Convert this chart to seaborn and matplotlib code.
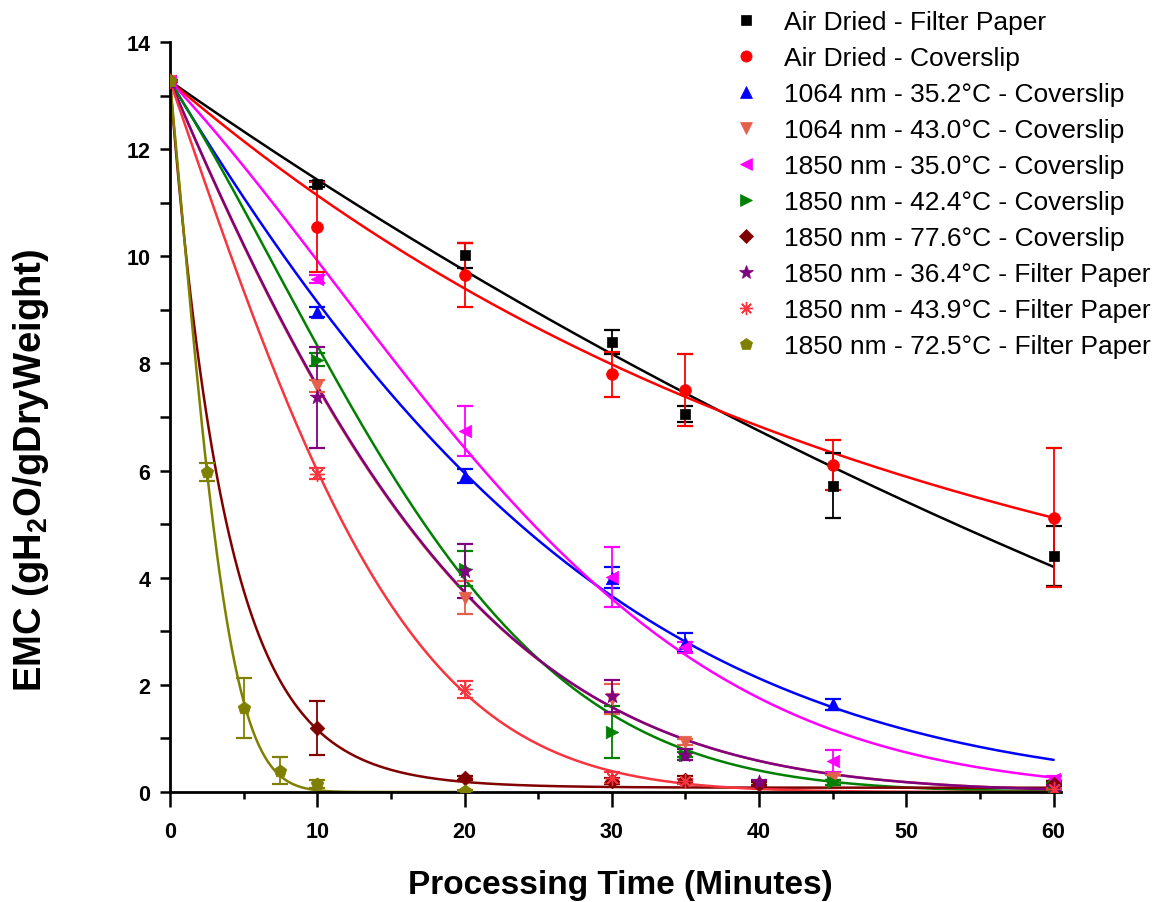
import numpy as np
import pandas as pd
import matplotlib
matplotlib.use("Agg")
import matplotlib.pyplot as plt
import seaborn as sns
from matplotlib.lines import Line2D
from matplotlib.ticker import MultipleLocator

# ---------------- data ----------------
labels = [
    "Air Dried - Filter Paper",
    "Air Dried - Coverslip",
    "1064 nm - 35.2°C - Coverslip",
    "1064 nm - 43.0°C - Coverslip",
    "1850 nm - 35.0°C - Coverslip",
    "1850 nm - 42.4°C - Coverslip",
    "1850 nm - 77.6°C - Coverslip",
    "1850 nm - 36.4°C - Filter Paper",
    "1850 nm - 43.9°C - Filter Paper",
    "1850 nm - 72.5°C - Filter Paper",
]

t_air_fp = [0, 10, 20, 30, 35, 45, 60]
y_air_fp = [13.27, 11.35, 10.02, 8.40, 7.05, 5.72, 4.41]
e_air_fp = [0, 0.05, 0.23, 0.22, 0.15, 0.60, 0.56]

t_air_cs = [0, 10, 20, 30, 35, 45, 60]
y_air_cs = [13.27, 10.55, 9.65, 7.80, 7.50, 6.10, 5.12]
e_air_cs = [0, 0.84, 0.60, 0.42, 0.67, 0.47, 1.30]

t_1064_352 = [0, 10, 20, 30, 35, 45, 60]
y_1064_352 = [13.27, 8.96, 5.90, 4.00, 2.79, 1.64, 0.15]
e_1064_352 = [0, 0.10, 0.13, 0.20, 0.17, 0.10, 0.05]

t_1064_430 = [0, 10, 20, 30, 35, 45, 60]
y_1064_430 = [13.27, 7.58, 3.63, 1.74, 0.93, 0.27, 0.10]
e_1064_430 = [0, 0.12, 0.31, 0.28, 0.06, 0.05, 0.03]

t_1850_350 = [0, 10, 20, 30, 35, 45, 60]
y_1850_350 = [13.27, 9.58, 6.74, 4.02, 2.70, 0.58, 0.25]
e_1850_350 = [0, 0.08, 0.46, 0.56, 0.10, 0.20, 0.05]

t_1850_424 = [0, 10, 20, 30, 35, 45, 60]
y_1850_424 = [13.27, 8.07, 4.17, 1.12, 0.70, 0.18, 0.12]
e_1850_424 = [0, 0.12, 0.33, 0.48, 0.05, 0.05, 0.05]

t_1850_776 = [0, 10, 20, 30, 35, 40, 60]
y_1850_776 = [13.27, 1.19, 0.26, 0.21, 0.23, 0.15, 0.15]
e_1850_776 = [0, 0.50, 0.04, 0.06, 0.06, 0.03, 0.05]

t_1850_364 = [0, 10, 20, 30, 35, 40, 60]
y_1850_364 = [13.27, 7.37, 4.13, 1.80, 0.70, 0.18, 0.10]
e_1850_364 = [0, 0.94, 0.50, 0.30, 0.10, 0.05, 0.03]

t_1850_439 = [0, 10, 20, 30, 35, 60]
y_1850_439 = [13.27, 5.94, 1.92, 0.27, 0.20, 0.05]
e_1850_439 = [0, 0.10, 0.16, 0.10, 0.05, 0.02]

t_1850_725 = [0, 2.5, 5, 7.5, 10, 20]
y_1850_725 = [13.27, 5.97, 1.56, 0.40, 0.15, 0.02]
e_1850_725 = [0, 0.17, 0.56, 0.25, 0.08, 0.01]

times = [t_air_fp, t_air_cs, t_1064_352, t_1064_430, t_1850_350,
         t_1850_424, t_1850_776, t_1850_364, t_1850_439, t_1850_725]
values = [y_air_fp, y_air_cs, y_1064_352, y_1064_430, y_1850_350,
          y_1850_424, y_1850_776, y_1850_364, y_1850_439, y_1850_725]
errors = [e_air_fp, e_air_cs, e_1064_352, e_1064_430, e_1850_350,
          e_1850_424, e_1850_776, e_1850_364, e_1850_439, e_1850_725]

# fitted decay curves: y = c + (y0 - c) * exp(-(a t + b t^2))
fit_y0 = [13.27] * 10
fit_c = [-9.89, 1.73, 0.0, 0.0, 0.0, 0.0, 0.08, 0.0, 0.0, 0.0]
fit_a = [0.00828, 0.02043, 0.03432, 0.0490, 0.02193, 0.03290, 0.26, 0.04858, 0.0603, 0.222]
fit_b = [0.0, 0.0, 0.000288, 0.00073, 0.000717, 0.001365, -0.001, 0.000742, 0.00191, 0.038]
fit_tmax = [60, 60, 60, 60, 60, 60, 60, 60, 60, 20]

# ---------------- style ----------------
colors = ["#000000", "#FF0000", "#0000FF", "#E5604B", "#FF00FF",
          "#008000", "#800000", "#800080", "#F8343F", "#808000"]
markers = ["s", "o", "^", "v", "<", ">", "D", "*", (8, 2, 0), "p"]
msizes = [7, 8.5, 9, 9, 9, 9, 7.5, 11, 10, 9.5]

sns.set_theme(style="ticks")
plt.rcParams["font.family"] = ["Liberation Sans", "DejaVu Sans"]
plt.rcParams["mathtext.fontset"] = "custom"
plt.rcParams["mathtext.rm"] = "Liberation Sans"
plt.rcParams["mathtext.bf"] = "Liberation Sans:bold"
plt.rcParams["text.color"] = "black"
plt.rcParams["axes.labelcolor"] = "black"
plt.rcParams["xtick.color"] = "black"
plt.rcParams["ytick.color"] = "black"
plt.rcParams["xtick.labelcolor"] = "black"
plt.rcParams["ytick.labelcolor"] = "black"

fig = plt.figure(figsize=(11.58, 9.03), dpi=100)
ax = fig.add_axes([170 / 1158, 1 - 793 / 903, (1061 - 170) / 1158, (793 - 43) / 903])

# fit lines
for i in range(len(labels)):
    tt = np.linspace(0, fit_tmax[i], 300)
    yy = fit_c[i] + (fit_y0[i] - fit_c[i]) * np.exp(-(fit_a[i] * tt + fit_b[i] * tt ** 2))
    df = pd.DataFrame({"t": tt, "y": yy})
    sns.lineplot(data=df, x="t", y="y", ax=ax, color=colors[i], linewidth=1.8,
                 zorder=2, legend=False, estimator=None, sort=False)

# error bars + markers
for i in range(len(labels)):
    ax.errorbar(times[i], values[i], yerr=errors[i], fmt="none", ecolor=colors[i],
                elinewidth=1.3, capsize=5.5, capthick=1.6, zorder=3)
    df = pd.DataFrame({"t": times[i], "y": values[i]})
    m = markers[i]
    if isinstance(m, tuple):
        ax.scatter(df["t"], df["y"], marker=m, s=msizes[i] ** 2, color=colors[i],
                   linewidths=1.0, zorder=4)
    else:
        sns.scatterplot(data=df, x="t", y="y", ax=ax, marker=m, s=msizes[i] ** 2,
                        color=colors[i], edgecolor=colors[i], linewidth=0.5,
                        zorder=4, legend=False)

# axes
ax.set_xlim(0, 60.5)
ax.set_ylim(0, 14)
ax.xaxis.set_major_locator(MultipleLocator(10))
ax.xaxis.set_minor_locator(MultipleLocator(5))
ax.yaxis.set_major_locator(MultipleLocator(2))
ax.yaxis.set_minor_locator(MultipleLocator(1))
sns.despine(ax=ax)
for s in ["left", "bottom"]:
    ax.spines[s].set_linewidth(2.0)
    ax.spines[s].set_color("black")
ax.tick_params(axis="x", which="major", direction="out", length=11, width=1.8,
               pad=10, labelsize=15.5, color="black", labelcolor="black")
ax.tick_params(axis="x", which="minor", direction="out", length=5, width=1.8, color="black")
ax.tick_params(axis="y", which="both", direction="out", length=7, width=1.8,
               pad=7, labelsize=15.5, color="black", labelcolor="black")
for lab in ax.get_xticklabels() + ax.get_yticklabels():
    lab.set_fontweight("bold")

ax.set_xlabel("Processing Time (Minutes)", fontsize=24, fontweight="bold", color="black")
ax.set_ylabel("EMC (gH$_\\mathbf{2}$O/gDryWeight)", fontsize=27.5, fontweight="bold", color="black")
ax.xaxis.set_label_coords(0.505, -0.103)
ax.yaxis.set_label_coords(-0.133, 0.43)

# legend (markers only)
handles = [Line2D([], [], color=colors[i], marker=markers[i], linestyle="",
                  markersize=msizes[i] * 0.95,
                  markeredgewidth=1.0 if isinstance(markers[i], tuple) else 0.5)
           for i in range(len(labels))]
fig.legend(handles, labels, loc="upper left", bbox_to_anchor=(733 / 1158, 1 - 11 / 903),
           frameon=False, fontsize=19, borderpad=0, borderaxespad=0,
           handlelength=1.0, handletextpad=0.95, labelspacing=0.455,
           labelcolor="black")

fig.savefig("out.png", dpi=100)
